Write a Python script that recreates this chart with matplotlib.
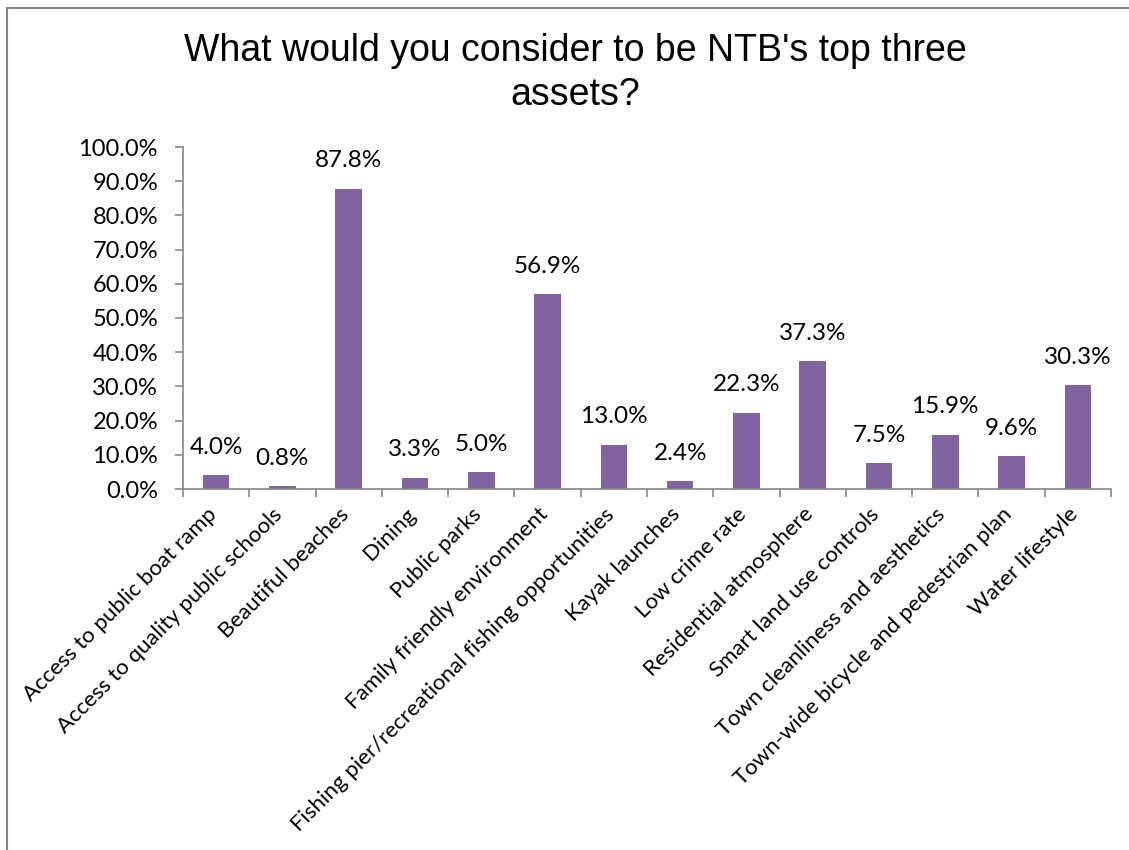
import numpy as np
import matplotlib.pyplot as plt
from matplotlib.patches import Rectangle

# ---------- data ----------
categories = [
    "Access to public boat ramp",
    "Access to quality public schools",
    "Beautiful beaches",
    "Dining",
    "Public parks",
    "Family friendly environment",
    "Fishing pier/recreational fishing opportunities",
    "Kayak launches",
    "Low crime rate",
    "Residential atmosphere",
    "Smart land use controls",
    "Town cleanliness and aesthetics",
    "Town-wide bicycle and pedestrian plan",
    "Water lifestyle",
]
values = [4.0, 0.8, 87.8, 3.3, 5.0, 56.9, 13.0, 2.4, 22.3, 37.3, 7.5, 15.9, 9.6, 30.3]
yticks = np.arange(0, 101, 10)

bar_color = "#8064A2"
axis_color = "#868686"
label_font = "Lato"

# ---------- plot ----------
fig = plt.figure(figsize=(11.29, 8.5), dpi=100)
ax = fig.add_axes([183 / 1129, 1 - 489 / 850, (1111 - 183) / 1129, (489 - 147) / 850])

x = np.arange(len(categories))
ax.bar(x, values, width=0.4, color=bar_color, zorder=2)

for xi, v in zip(x, values):
    ax.annotate(f"{v:.1f}%", xy=(xi, v), xytext=(0, 20), textcoords="offset points",
                ha="center", va="center", fontsize=17.5, family=label_font, color="black")

ax.set_xlim(-0.5, len(categories) - 0.5)
ax.set_ylim(0, 100)
ax.set_yticks(yticks)
ax.set_yticklabels([f"{t:.1f}%" for t in yticks], fontsize=17, family=label_font)

# category boundary ticks, labels at centers
ax.set_xticks(np.arange(-0.5, len(categories)))
ax.set_xticklabels([])
ax.tick_params(axis="x", length=6, color=axis_color, width=1.2)
ax.tick_params(axis="y", length=6, color=axis_color, width=1.2, pad=12)
for xi, lab in zip(x, categories):
    ax.annotate(lab, xy=(xi, 0), xycoords=("data", "axes fraction"),
                xytext=(-2, -16), textcoords="offset points",
                rotation=45, rotation_mode="anchor", ha="right", va="center",
                fontsize=16, family=label_font)

for s in ["top", "right"]:
    ax.spines[s].set_visible(False)
for s in ["left", "bottom"]:
    ax.spines[s].set_color(axis_color)
    ax.spines[s].set_linewidth(1.2)

fig.text(575 / 1129, 1 - 73 / 850, "What would you consider to be NTB's top three\nassets?",
         ha="center", va="center", fontsize=27, family="Liberation Sans",
         linespacing=1.28)

# outer chart border
fig.patches.append(Rectangle((7 / 1129, -0.1), 1.2, 1 - 8 / 850 + 0.1,
                             transform=fig.transFigure, fill=False,
                             edgecolor=axis_color, linewidth=1.5))

fig.savefig("out.png", dpi=100)
